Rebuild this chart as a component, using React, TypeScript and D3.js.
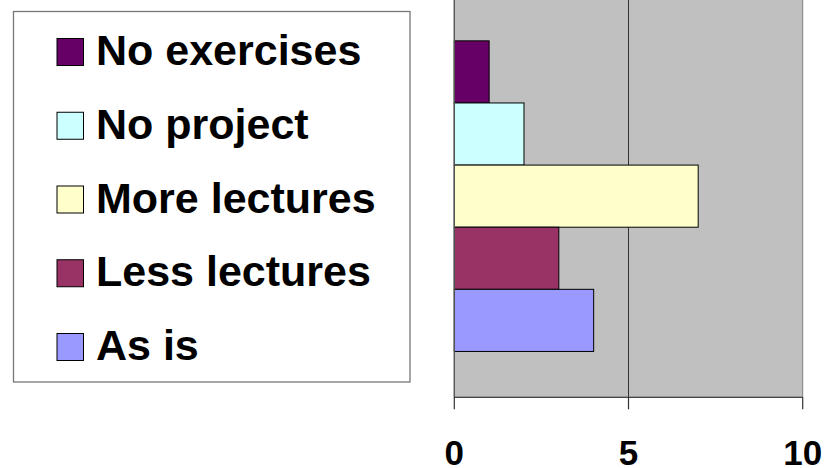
import React from "react";
import * as d3 from "d3";

const categories = ["Survey"];
const seriesNames = ["No exercises", "No project", "More lectures", "Less lectures", "As is"];
const seriesValues = [1, 2, 7, 3, 4];
const seriesColors = ["#660066", "#CCFFFF", "#FFFFCC", "#993366", "#9999FF"];
const xTicks = [0, 5, 10];

const W = 828;
const H = 468;
const plotLeft = 454.3;
const plotRight = 802.7;
const plotTop = -5;
const plotBottom = 397.3;

export default function App() {
  const x = d3.scaleLinear().domain([0, 10]).range([plotLeft, plotRight]);
  const yCat = d3
    .scaleBand<string>()
    .domain(categories)
    .range([plotTop, plotBottom])
    .paddingInner(0)
    .paddingOuter(0.1476);
  const ySer = d3
    .scaleBand<string>()
    .domain(seriesNames)
    .range([0, yCat.bandwidth()])
    .padding(0);

  const legendX = 13.5;
  const legendY = 11.5;
  const legendW = 396.5;
  const legendH = 370.5;
  const legendRow = d3.scaleLinear().domain([0, 4]).range([52, 347]);

  const font = "'Liberation Sans', Arial, Helvetica, sans-serif";

  return (
    <svg
      width={W}
      height={H}
      style={{ position: "absolute", left: 0, top: 0, display: "block" }}
    >
      <rect x={0} y={0} width={W} height={H} fill="#ffffff" />
      {/* plot area */}
      <rect
        x={plotLeft}
        y={plotTop}
        width={plotRight - plotLeft}
        height={plotBottom - plotTop}
        fill="#C0C0C0"
        stroke="#808080"
        strokeWidth={1}
      />
      {/* gridlines */}
      {xTicks.slice(1, -1).map((t) => (
        <line
          key={"g" + t}
          x1={x(t)}
          x2={x(t)}
          y1={plotTop}
          y2={plotBottom}
          stroke="#333333"
          strokeWidth={1}
        />
      ))}
      {/* bars */}
      {categories.map((c) =>
        seriesNames.map((s, i) => {
          const y0 = (yCat(c) as number) + (ySer(s) as number);
          return (
            <rect
              key={c + s}
              x={x(0)}
              y={y0}
              width={x(seriesValues[i]) - x(0)}
              height={ySer.bandwidth()}
              fill={seriesColors[i]}
              stroke="#000000"
              strokeWidth={1}
            />
          );
        })
      )}
      {/* axes */}
      <line x1={plotLeft} x2={plotLeft} y1={plotTop} y2={plotBottom} stroke="#555555" strokeWidth={1.3} />
      <line x1={plotLeft} x2={plotRight} y1={plotBottom} y2={plotBottom} stroke="#444444" strokeWidth={1.3} />
      {xTicks.map((t) => (
        <g key={"t" + t}>
          <line x1={x(t)} x2={x(t)} y1={plotBottom} y2={plotBottom + 12} stroke="#333333" strokeWidth={1.2} />
          <text
            x={x(t)}
            y={464.5}
            textAnchor="middle"
            fontFamily={font}
            fontWeight="bold"
            fontSize={35}
            fill="#000000"
          >
            {t}
          </text>
        </g>
      ))}
      {/* legend */}
      <rect
        x={legendX}
        y={legendY}
        width={legendW}
        height={legendH}
        fill="#ffffff"
        stroke="#777777"
        strokeWidth={1.3}
      />
      {seriesNames.map((s, i) => {
        const cy = legendRow(i);
        return (
          <g key={"l" + s}>
            <rect
              x={57}
              y={cy - 13.5}
              width={26.5}
              height={27}
              fill={seriesColors[i]}
              stroke="#000000"
              strokeWidth={1}
            />
            <text
              x={96}
              y={cy + 13}
              fontFamily={font}
              fontWeight="bold"
              fontSize={43}
              fill="#000000"
            >
              {s}
            </text>
          </g>
        );
      })}
    </svg>
  );
}
